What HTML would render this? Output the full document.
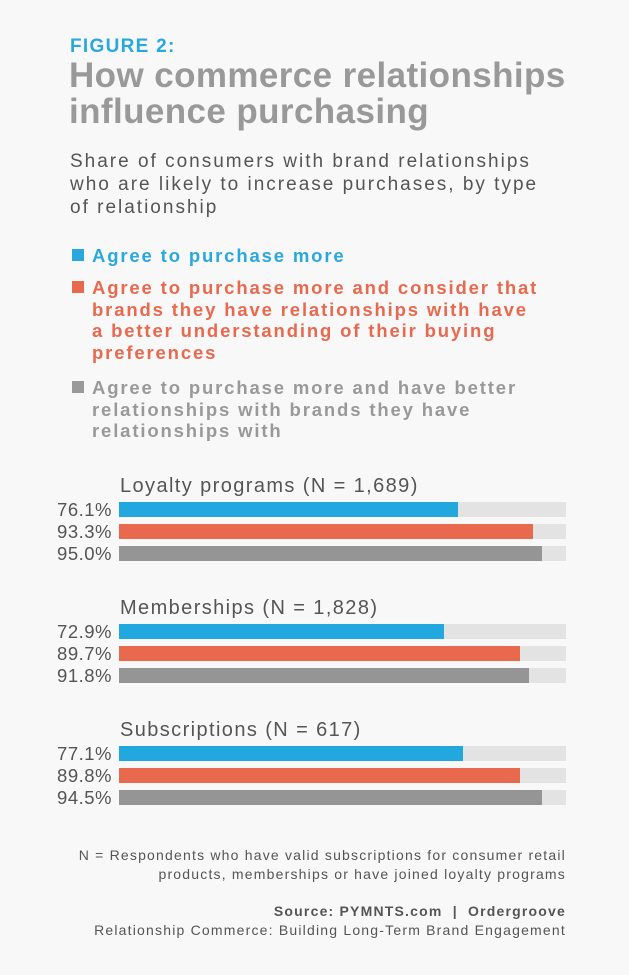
<!DOCTYPE html>
<html><head><meta charset="utf-8"><style>
body{margin:0;width:629px;height:975px;background:#f8f8f8;font-family:"Liberation Sans",sans-serif;position:relative;overflow:hidden}
.a{position:absolute;white-space:nowrap}
.fig{left:70px;top:36px;font-size:19px;font-weight:bold;color:#29a8e0;letter-spacing:1.3px}
.t{left:69px;font-size:35px;font-weight:bold;color:#999;letter-spacing:0.4px}
.s{left:70px;font-size:19px;color:#555;line-height:23px;top:150px;letter-spacing:2px}
.lg{left:92px;font-size:18.5px;font-weight:bold;line-height:21.5px;letter-spacing:1.85px}
.sq{position:absolute;left:72px;width:12px;height:12px}
.gl{left:120px;font-size:20px;color:#555;letter-spacing:1.4px}
.v{right:517px;font-size:18.5px;color:#555;line-height:18px;letter-spacing:0.5px}
.tr{position:absolute;left:119px;width:447px;height:15px;background:#e3e3e3}
.b{height:15px}
.fn{right:63px;font-size:14px;color:#555;text-align:right;line-height:19px;letter-spacing:1.2px}
</style></head><body>
<div class="a fig">FIGURE 2:</div>
<div class="a t" style="top:56px">How commerce relationships</div>
<div class="a t" style="top:92px">influence purchasing</div>
<div class="a s">Share of consumers with brand relationships<br>who are likely to increase purchases, by type<br>of relationship</div>
<div class="sq" style="top:249px;background:#29a8e0"></div>
<div class="a lg" style="top:245px;color:#29a8e0">Agree to purchase more</div>
<div class="sq" style="top:281px;background:#e8694e"></div>
<div class="a lg" style="top:277px;color:#e8694e">Agree to purchase more and consider that<br>brands they have relationships with have<br>a better understanding of their buying<br>preferences</div>
<div class="sq" style="top:381px;background:#999"></div>
<div class="a lg" style="top:377px;color:#999">Agree to purchase more and have better<br>relationships with brands they have<br>relationships with</div>

<div class="a gl" style="top:475px">Loyalty programs (N = 1,689)</div>
<div class="a v" style="top:501px">76.1%</div><div class="tr" style="top:502px"><div class="b" style="width:339px;background:#22a7df"></div></div>
<div class="a v" style="top:523px">93.3%</div><div class="tr" style="top:524px"><div class="b" style="width:414px;background:#e8694e"></div></div>
<div class="a v" style="top:545px">95.0%</div><div class="tr" style="top:546px"><div class="b" style="width:423px;background:#959595"></div></div>

<div class="a gl" style="top:597px">Memberships (N = 1,828)</div>
<div class="a v" style="top:623px">72.9%</div><div class="tr" style="top:624px"><div class="b" style="width:325px;background:#22a7df"></div></div>
<div class="a v" style="top:645px">89.7%</div><div class="tr" style="top:646px"><div class="b" style="width:401px;background:#e8694e"></div></div>
<div class="a v" style="top:667px">91.8%</div><div class="tr" style="top:668px"><div class="b" style="width:410px;background:#959595"></div></div>

<div class="a gl" style="top:719px">Subscriptions (N = 617)</div>
<div class="a v" style="top:745px">77.1%</div><div class="tr" style="top:746px"><div class="b" style="width:344px;background:#22a7df"></div></div>
<div class="a v" style="top:767px">89.8%</div><div class="tr" style="top:768px"><div class="b" style="width:401px;background:#e8694e"></div></div>
<div class="a v" style="top:789px">94.5%</div><div class="tr" style="top:790px"><div class="b" style="width:423px;background:#959595"></div></div>

<div class="a fn" style="top:846px">N = Respondents who have valid subscriptions for consumer retail<br>products, memberships or have joined loyalty programs</div>
<div class="a fn" style="top:902px"><b>Source: PYMNTS.com &nbsp;|&nbsp; Ordergroove</b><br>Relationship Commerce: Building Long-Term Brand Engagement</div>
</body></html>
